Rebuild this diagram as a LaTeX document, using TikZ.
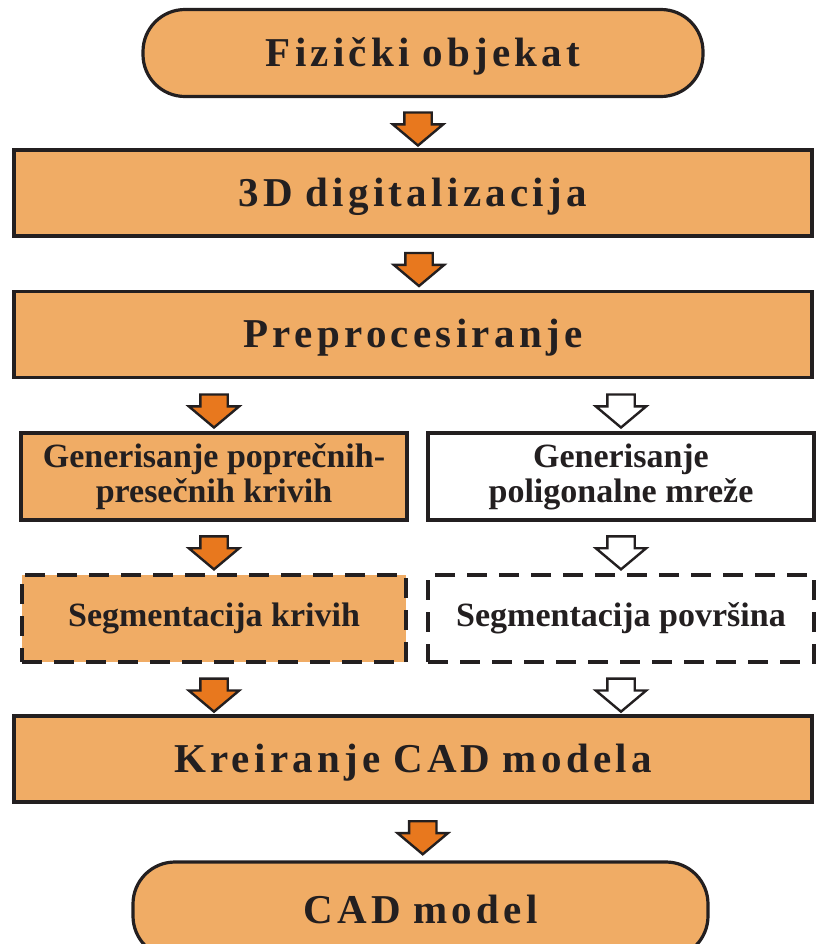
\documentclass[tikz,border=0pt]{standalone}
\usepackage{fontspec}
\setmainfont{Liberation Serif}
\newfontfamily\spacedfont[LetterSpace=10.5,WordSpace=0.85]{Liberation Serif}
\usepackage{xcolor}
\usepackage{tikz}
\usetikzlibrary{positioning,shapes.arrows}

\definecolor{boxfill}{HTML}{F0AC65}
\definecolor{arrowfill}{HTML}{E8781E}
\definecolor{ink}{HTML}{231F20}

\begin{document}
\begin{tikzpicture}[
x=0.5pt, y=-0.5pt,
every node/.style={text=ink},
wide/.style={
	rectangle,
	draw=ink,
	line width=1.6pt,
	fill=boxfill,
	align=center,
	font=\spacedfont\bfseries\fontsize{20.5}{20}\selectfont,
	text height=15pt,
	text depth=2pt,
	minimum width=399pt,
	minimum height=43pt
},
terminal/.style={
	wide,
	rounded corners=21pt,
	minimum height=43.5pt
},
half/.style={
	rectangle,
	draw=ink,
	line width=1.6pt,
	fill=boxfill,
	align=center,
	font=\bfseries\fontsize{17}{17.5}\selectfont,
	minimum width=193pt,
	minimum height=43.5pt
},
plain/.style={half, fill=white},
loose/.style={line width=2.4pt, dash pattern=on 10pt off 6pt},
flow/.style={
	single arrow,
	draw=ink,
	line width=1.2pt,
	fill=arrowfill,
	shape border rotate=270,
	minimum height=16.5pt,
	minimum width=24pt,
	single arrow head extend=5.75pt,
	single arrow tip angle=100,
	inner xsep=6.25pt,
	inner ysep=0pt
},
hollow/.style={flow, fill=white}
]
\useasboundingbox (0,0) rectangle (821,944);

\node[terminal, minimum width=280pt] (object) at (423,53) {Fizički objekat};
\node[wide] (scan) at (413,193) {3D digitalizacija};
\node[wide] (prep) at (413,334.5) {Preprocesiranje};

\node[half] (curves) at (214,476.5) {Generisanje poprečnih-\\presečnih krivih};
\node[plain] (mesh) at (621,476.5) {Generisanje\\poligonalne mreže};

\node[half, loose, minimum width=192pt] (segcurves) at (214,618.5) {Segmentacija krivih};
\node[plain, loose] (segsurf) at (621,618.5) {Segmentacija površina};

\node[wide] (cad) at (413,759) {Kreiranje CAD modela};
\node[terminal, minimum width=287.5pt, minimum height=48pt] (model) at (420.5,910) {CAD model};

\path (object.south) -- node[flow] {} (scan.north);
\path (scan.south) -- node[flow, xshift=3pt] {} (prep.north);

\path (prep.south -| curves) -- node[flow] {} (curves.north);
\path (prep.south -| mesh) -- node[hollow] {} (mesh.north);

\path (curves.south) -- node[flow] {} (segcurves.north);
\path (mesh.south) -- node[hollow] {} (segsurf.north);

\path (segcurves.south) -- node[flow] {} (segcurves.south |- cad.north);
\path (segsurf.south) -- node[hollow] {} (segsurf.south |- cad.north);

\path (cad.south) -- node[flow, xshift=3pt] {} (model.north);

\end{tikzpicture}
\end{document}
